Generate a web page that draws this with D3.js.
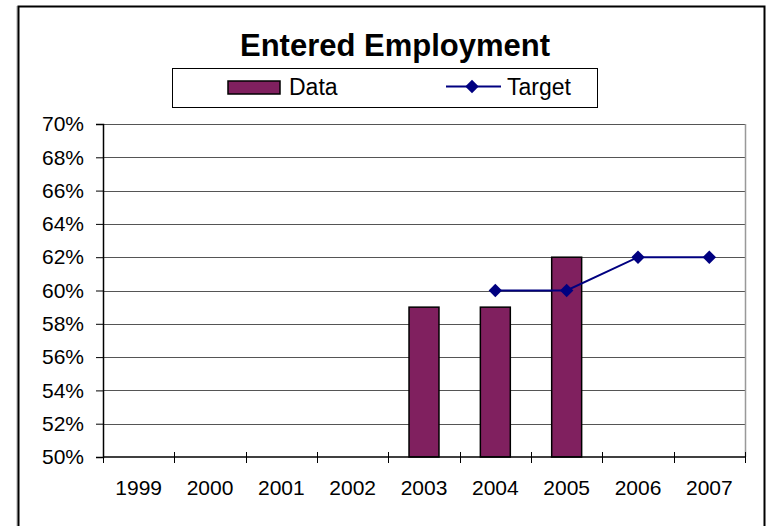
<!DOCTYPE html>
<html>
<head>
<meta charset="utf-8">
<script src="https://cdn.jsdelivr.net/npm/d3@7"></script>
<style>
  html, body { margin: 0; padding: 0; background: #fff; }
  svg { display: block; font-family: "Liberation Sans", Arial, sans-serif; }
</style>
</head>
<body>
<svg id="chart" width="769" height="526"></svg>
<script>
// Chart data
const years = ["1999", "2000", "2001", "2002", "2003", "2004", "2005", "2006", "2007"];
const dataYears = ["2003", "2004", "2005"];
const dataValues = [0.59, 0.59, 0.62];
const targetYears = ["2004", "2005", "2006", "2007"];
const targetValues = [0.60, 0.60, 0.62, 0.62];
const yTicks = [0.50, 0.52, 0.54, 0.56, 0.58, 0.60, 0.62, 0.64, 0.66, 0.68, 0.70];

const FONT = "'Liberation Sans', Arial, sans-serif";
const svg = d3.select("#chart");

// Outer frame
svg.append("line").attr("x1", 17).attr("x2", 17).attr("y1", 6).attr("y2", 526)
  .attr("stroke", "#aaa").attr("stroke-width", 1);
svg.append("path")
  .attr("d", "M18.5,530 V6.5 H764.5 V530")
  .attr("fill", "none").attr("stroke", "#000").attr("stroke-width", 2);

// Plot area
const plotL = 103, plotR = 745, plotT = 124, plotB = 457;

const x = d3.scaleBand().domain(years).range([plotL, plotR]).paddingInner(0).paddingOuter(0);
const y = d3.scaleLinear().domain([0.50, 0.70]).range([plotB, plotT]);

// Gridlines
svg.append("g").selectAll("line").data(yTicks.slice(1)).join("line")
  .attr("x1", plotL).attr("x2", plotR)
  .attr("y1", d => Math.round(y(d)) + 0.5).attr("y2", d => Math.round(y(d)) + 0.5)
  .attr("stroke", "#555").attr("stroke-width", 1);

// Plot area right border
svg.append("line").attr("x1", plotR + 0.5).attr("x2", plotR + 0.5).attr("y1", plotT).attr("y2", plotB)
  .attr("stroke", "#999").attr("stroke-width", 1.5);

// Bars
const barW = x.bandwidth() * 0.42;
svg.append("g").selectAll("rect").data(dataYears.map((d, i) => ({ year: d, v: dataValues[i] }))).join("rect")
  .attr("x", d => x(d.year) + (x.bandwidth() - barW) / 2)
  .attr("width", barW)
  .attr("y", d => y(d.v))
  .attr("height", d => y(0.50) - y(d.v))
  .attr("fill", "#80205F")
  .attr("stroke", "#000").attr("stroke-width", 1.5);

// Y axis
const yAxis = d3.axisLeft(y).tickValues(yTicks).tickFormat(d3.format(".0%")).tickSize(7).tickPadding(12);
const gy = svg.append("g").attr("transform", `translate(${plotL},0)`).call(yAxis);
gy.select(".domain").attr("stroke", "#000").attr("stroke-width", 1.5);
gy.selectAll(".tick line").attr("stroke", "#000");
gy.selectAll("text").attr("font-size", 21).attr("fill", "#000")
  .attr("font-family", FONT);

// X axis: ticks at band boundaries
const gx = svg.append("g").attr("transform", `translate(0,${plotB})`);
gx.append("line").attr("x1", plotL).attr("x2", plotR).attr("y1", 0).attr("y2", 0)
  .attr("stroke", "#000").attr("stroke-width", 1.5);
const boundaries = years.map(d => x(d)).concat([plotR]);
gx.selectAll("line.tk").data(boundaries).join("line").attr("class", "tk")
  .attr("x1", d => Math.round(d) + 0.5).attr("x2", d => Math.round(d) + 0.5)
  .attr("y1", -5).attr("y2", 6).attr("stroke", "#000");
gx.selectAll("text").data(years).join("text")
  .attr("x", d => x(d) + x.bandwidth() / 2)
  .attr("y", 38)
  .attr("text-anchor", "middle")
  .attr("font-size", 21)
  .text(d => d);

// Target line with diamond markers
const targetPts = targetYears.map((d, i) => ({ year: d, v: targetValues[i] }));
const line = d3.line().x(d => x(d.year) + x.bandwidth() / 2).y(d => y(d.v));
svg.append("path").datum(targetPts).attr("d", line)
  .attr("fill", "none").attr("stroke", "#000080").attr("stroke-width", 2);
const diamond = d3.symbol().type(d3.symbolSquare).size(90);
svg.append("g").selectAll("path").data(targetPts).join("path")
  .attr("transform", d => `translate(${x(d.year) + x.bandwidth() / 2},${y(d.v)}) rotate(45)`)
  .attr("d", diamond)
  .attr("fill", "#000080");

// Title
svg.append("text").attr("x", 395).attr("y", 56).attr("text-anchor", "middle")
  .attr("font-size", 31).attr("font-weight", "bold").text("Entered Employment");

// Legend
const lg = svg.append("g");
lg.append("rect").attr("x", 172.5).attr("y", 68.5).attr("width", 425).attr("height", 39)
  .attr("fill", "#fff").attr("stroke", "#000").attr("stroke-width", 1);
lg.append("rect").attr("x", 228).attr("y", 81).attr("width", 52).attr("height", 13)
  .attr("fill", "#80205F").attr("stroke", "#000").attr("stroke-width", 1.5);
lg.append("text").attr("x", 289).attr("y", 95).attr("font-size", 23).text("Data");
lg.append("line").attr("x1", 446).attr("x2", 501).attr("y1", 86.5).attr("y2", 86.5)
  .attr("stroke", "#000080").attr("stroke-width", 2);
lg.append("path").attr("transform", "translate(472,86.5) rotate(45)")
  .attr("d", diamond).attr("fill", "#000080");
lg.append("text").attr("x", 507).attr("y", 95).attr("font-size", 23).text("Target");
</script>
</body>
</html>
